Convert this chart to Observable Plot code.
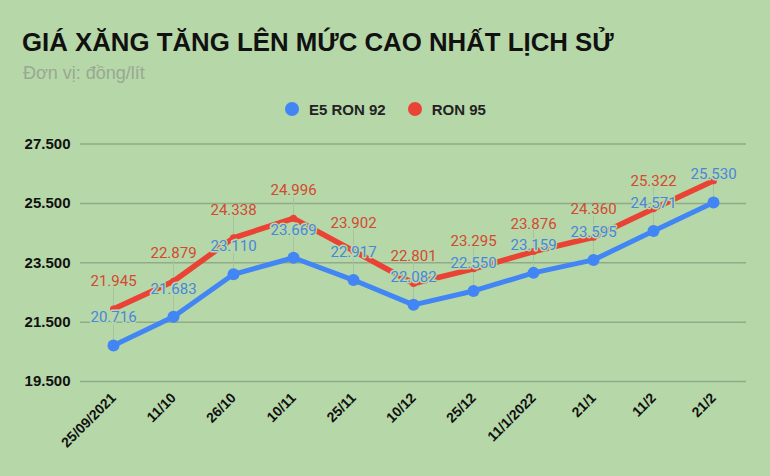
<!DOCTYPE html>
<html>
<head>
<meta charset="utf-8">
<script src="https://cdn.jsdelivr.net/npm/d3@7"></script>
<script src="https://cdn.jsdelivr.net/npm/@observablehq/plot@0.6"></script>
<style>
  html, body { margin: 0; padding: 0; background: #b6d7a8; }
  #wrap { position: relative; width: 770px; height: 476px; overflow: hidden; background: #b6d7a8; font-family: "Liberation Sans", Arial, sans-serif; }
  #title { position: absolute; left: 22px; top: 29px; font-size: 25.8px; line-height: 26px; font-weight: 700; color: #111; white-space: nowrap; }
  #subtitle { position: absolute; left: 23px; top: 64px; font-size: 18px; line-height: 18px; color: #98a894; white-space: nowrap; }
  #legend { position: absolute; left: 285px; top: 100px; height: 18px; display: flex; align-items: center; font-size: 15px; font-weight: 700; color: #222; white-space: nowrap; }
  #legend .sw { width: 14px; height: 14px; border-radius: 50%; display: inline-block; margin-right: 10px; }
  #legend .item { display: flex; align-items: center; margin-right: 22px; }
  #chart { position: absolute; left: 0; top: 125px; }
</style>
</head>
<body>
<div id="wrap">
  <div id="title">GIÁ XĂNG TĂNG LÊN MỨC CAO NHẤT LỊCH SỬ</div>
  <div id="subtitle">Đơn vị: đồng/lít</div>
  <div id="legend"></div>
  <div id="chart"></div>
</div>
<script>
const dates = ["25/09/2021", "11/10", "26/10", "10/11", "25/11", "10/12", "25/12", "11/1/2022", "21/1", "11/2", "21/2"];
const e5ron92 = [20716, 21683, 23110, 23669, 22917, 22082, 22550, 23159, 23595, 24571, 25530];
const ron95 = [21945, 22879, 24338, 24996, 23902, 22801, 23295, 23876, 24360, 25322, 26264];
const yTicks = [19500, 21500, 23500, 25500, 27500];
const seriesNames = ["E5 RON 92", "RON 95"];
const seriesColors = ["#4285f4", "#ea4335"];
const labelColors = ["#4a86dc", "#d4492f"];

const bg = "#b6d7a8";
const fmt = v => d3.format(",")(v).replace(/,/g, ".");
const data = dates.map((d, i) => ({date: d, e5: e5ron92[i], r95: ron95[i], i}));
const redLabeled = data.filter(d => d.i < data.length - 1);

// legend
const legend = document.getElementById("legend");
seriesNames.forEach((n, k) => {
  const it = document.createElement("div");
  it.className = "item";
  it.innerHTML = `<span class="sw" style="background:${seriesColors[k]}"></span><span>${n}</span>`;
  legend.appendChild(it);
});

const axisFont = "'Liberation Sans', Arial, sans-serif";
const chart = Plot.plot({
  width: 770,
  height: 351,
  marginTop: 18.5,
  marginBottom: 95,
  marginLeft: 80,
  marginRight: 24,
  style: {background: "transparent", fontFamily: "Roboto, 'Liberation Sans', sans-serif", color: "#111"},
  x: {type: "point", domain: dates, padding: 0.5, label: null},
  y: {domain: [19500, 27500], label: null},
  marks: [
    Plot.ruleY(yTicks, {stroke: "#8fab87", strokeWidth: 1.5}),
    Plot.axisY({ticks: yTicks, tickSize: 0, tickPadding: 10, tickFormat: fmt, fontSize: 15, fontWeight: "bold", fontFamily: axisFont, label: null}),
    Plot.axisX({tickRotate: -45, tickSize: 0, tickPadding: 14, fontSize: 14, fontWeight: "bold", fontFamily: axisFont, label: null}),
    Plot.ruleX(data, {x: "date", y1: "e5", y2: "e5", insetTop: -21, stroke: "#a9c3a1", strokeWidth: 1}),
    Plot.ruleX(redLabeled, {x: "date", y1: "r95", y2: "r95", insetTop: -21, stroke: "#a9c3a1", strokeWidth: 1}),
    Plot.line(data, {x: "date", y: "e5", stroke: seriesColors[0], strokeWidth: 5}),
    Plot.dot(data, {x: "date", y: "e5", r: 6, fill: seriesColors[0]}),
    Plot.line(data, {x: "date", y: "r95", stroke: seriesColors[1], strokeWidth: 5.5}),
    Plot.dot(data, {x: "date", y: "r95", r: 3.5, fill: seriesColors[1]}),
    Plot.text(data, {x: "date", y: "e5", text: d => fmt(d.e5), dy: -23, lineAnchor: "bottom", fill: labelColors[0], fontSize: 15, stroke: bg, strokeWidth: 3}),
    Plot.text(redLabeled, {x: "date", y: "r95", text: d => fmt(d.r95), dy: -23, lineAnchor: "bottom", fill: labelColors[1], fontSize: 15})
  ]
});
document.getElementById("chart").appendChild(chart);
</script>
</body>
</html>
